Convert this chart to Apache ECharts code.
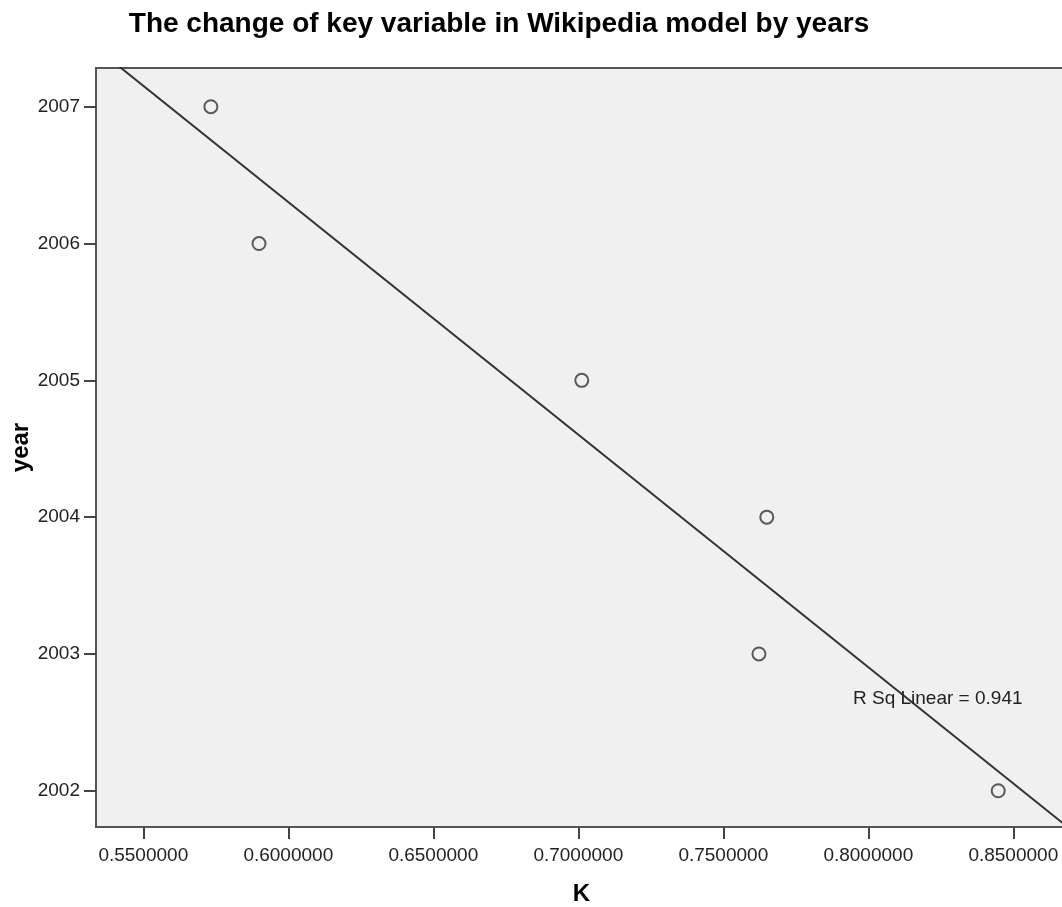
<!DOCTYPE html>
<html>
<head>
<meta charset="utf-8">
<script src="https://cdn.jsdelivr.net/npm/echarts@6/dist/echarts.min.js"></script>
<style>
  html, body { margin: 0; padding: 0; background: #ffffff; }
  #chart { width: 1062px; height: 907px; }
</style>
</head>
<body>
<div id="chart"></div>
<script>
// Observations: key variable K for each year
const years = [2007, 2006, 2005, 2004, 2003, 2002];
const kValues = [0.5733, 0.5899, 0.7012, 0.7650, 0.7623, 0.8448];

// Axis tick labels
const xTicks = [0.55, 0.60, 0.65, 0.70, 0.75, 0.80, 0.85];
const yTicks = [2002, 2003, 2004, 2005, 2006, 2007];

// Axis extents
const xRange = [0.53369, 0.86852];
const yRange = [2001.735, 2007.283];

// Least-squares fit of year on K
function linearFit(xs, ys) {
  const n = xs.length;
  const mx = xs.reduce((a, b) => a + b, 0) / n;
  const my = ys.reduce((a, b) => a + b, 0) / n;
  let sxy = 0, sxx = 0, syy = 0;
  for (let i = 0; i < n; i++) {
    sxy += (xs[i] - mx) * (ys[i] - my);
    sxx += (xs[i] - mx) ** 2;
    syy += (ys[i] - my) ** 2;
  }
  const slope = sxy / sxx;
  return { slope, intercept: my - slope * mx, r2: (sxy * sxy) / (sxx * syy) };
}
const fit = linearFit(kValues, years);
const fitLine = xRange.map(x => [x, fit.intercept + fit.slope * x]);
const points = kValues.map((k, i) => [k, years[i]]);

const FONT = '"Liberation Sans", Arial, sans-serif';
const INK = '#333333';

const chart = echarts.init(document.getElementById('chart'), null, { renderer: 'canvas' });
chart.setOption({
  animation: false,
  backgroundColor: '#ffffff',
  grid: {
    left: 96, top: 68, right: -5, bottom: 80,
    containLabel: false,
    outerBoundsMode: 'none',
    show: true,
    backgroundColor: '#f0f0f0',
    borderColor: '#555555',
    borderWidth: 2
  },
  xAxis: {
    type: 'value',
    min: xRange[0], max: xRange[1],
    name: 'K',
    nameLocation: 'middle',
    nameGap: 55,
    nameMoveOverlap: false,
    nameTextStyle: { fontFamily: FONT, fontSize: 24, fontWeight: 'bold', color: '#000' },
    axisLine: { show: true, lineStyle: { color: '#555555', width: 2 } },
    axisTick: { show: true, length: 12, customValues: xTicks, lineStyle: { color: '#444', width: 2 } },
    axisLabel: {
      customValues: xTicks,
      margin: 19,
      fontFamily: FONT, fontSize: 19, color: '#222',
      formatter: v => v.toFixed(7)
    },
    splitLine: { show: false }
  },
  yAxis: {
    type: 'value',
    min: yRange[0], max: yRange[1],
    name: 'year',
    nameLocation: 'middle',
    nameGap: 63,
    nameRotate: 90,
    nameMoveOverlap: false,
    nameTextStyle: { fontFamily: FONT, fontSize: 24, fontWeight: 'bold', color: '#000' },
    axisLine: { show: true, lineStyle: { color: '#555555', width: 2 } },
    axisTick: { show: true, length: 12, customValues: yTicks, lineStyle: { color: '#444', width: 2 } },
    axisLabel: {
      customValues: yTicks,
      margin: 16,
      fontFamily: FONT, fontSize: 19, color: '#222',
      formatter: v => String(Math.round(v))
    },
    splitLine: { show: false }
  },
  graphic: [
    {
      type: 'text',
      x: 499,
      y: 10,
      z: 10,
      style: {
        text: 'The change of key variable in Wikipedia model by years',
        font: 'bold 28px ' + FONT,
        fill: '#000',
        align: 'center',
        verticalAlign: 'top'
      }
    },
    {
      type: 'text',
      x: 853,
      y: 689,
      z: 10,
      style: {
        text: 'R Sq Linear = ' + fit.r2.toFixed(3),
        font: '19px ' + FONT,
        fill: '#222',
        verticalAlign: 'top'
      }
    }
  ],
  series: [
    {
      type: 'line',
      data: fitLine,
      clip: true,
      showSymbol: false,
      symbol: 'none',
      lineStyle: { color: INK, width: 2 },
      z: 2
    },
    {
      type: 'scatter',
      data: points,
      symbol: 'circle',
      symbolSize: 13,
      itemStyle: { color: 'rgba(0,0,0,0)', borderColor: INK, borderWidth: 2 },
      z: 3
    }
  ]
});
</script>
</body>
</html>
